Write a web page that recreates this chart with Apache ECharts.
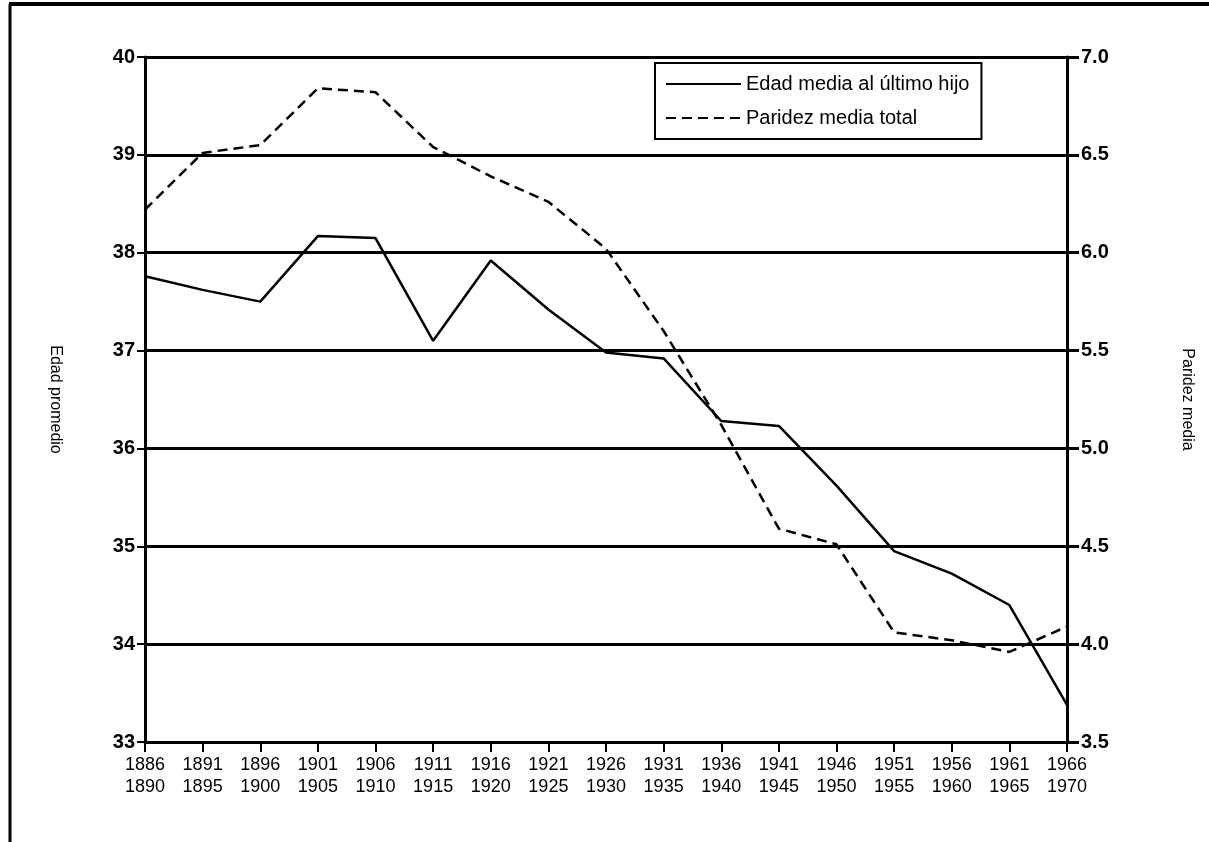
<!DOCTYPE html>
<html>
<head>
<meta charset="utf-8">
<script src="https://cdn.jsdelivr.net/npm/echarts@6/dist/echarts.min.js"></script>
<style>
  html, body { margin: 0; padding: 0; background: #fff; }
  #chartContainer { width: 1209px; height: 842px; }
</style>
</head>
<body>
<div id="chartContainer"></div>
<script>
// periods (x axis)
let periods = ['1886\n1890','1891\n1895','1896\n1900','1901\n1905','1906\n1910','1911\n1915','1916\n1920',
  '1921\n1925','1926\n1930','1931\n1935','1936\n1940','1941\n1945','1946\n1950','1951\n1955','1956\n1960',
  '1961\n1965','1966\n1970']
// left axis: edad media al ultimo hijo
let edadUltimoHijo = [37.76,37.62,37.50,38.17,38.15,37.10,37.92,37.42,36.98,36.92,36.28,36.23,35.62,34.95,34.72,34.40,33.38]
// right axis: paridez media total
let paridezTotal = [6.22,6.51,6.55,6.84,6.82,6.54,6.39,6.26,6.02,5.60,5.12,4.59,4.51,4.06,4.02,3.96,4.09]
let seriesNames = ['Edad media al último hijo','Paridez media total']
let axisNames = ['Edad promedio','Paridez media']

var myChart = echarts.init(document.getElementById('chartContainer'));
var option = {
  backgroundColor: '#fff',
  animation: false,
  textStyle: { fontFamily: 'Liberation Sans, Arial, sans-serif', color: '#000' },
  grid: { left: 145, right: 142, top: 57, bottom: 100 },
  legend: {
    left: 655, top: 63,
    orient: 'vertical',
    itemWidth: 75, itemHeight: 14, itemGap: 14,
    padding: [11, 12, 11, 10],
    borderColor: '#000', borderWidth: 2,
    itemStyle: { opacity: 0 },
    lineStyle: { width: 2 },
    textStyle: { fontSize: 20, color: '#000' },
    data: seriesNames
  },
  xAxis: {
    type: 'category',
    data: periods,
    boundaryGap: false,
    axisLine: { lineStyle: { color: '#000', width: 3 } },
    axisTick: { length: 10, lineStyle: { color: '#000', width: 2 } },
    axisLabel: { fontSize: 18, lineHeight: 22, margin: 12, color: '#000',
      fontFamily: 'Liberation Sans Narrow, Liberation Sans, Arial' }
  },
  yAxis: [
    {
      type: 'value', min: 33, max: 40, interval: 1,
      name: axisNames[0], nameLocation: 'middle', nameGap: 82, nameRotate: -90,
      nameTextStyle: { fontSize: 16, color: '#000' },
      axisLine: { show: true, lineStyle: { color: '#000', width: 3 } },
      axisTick: { show: true, length: 8, lineStyle: { color: '#000', width: 2 } },
      axisLabel: { fontSize: 20, fontWeight: 'bold', color: '#000', margin: 10 },
      splitLine: { show: true, lineStyle: { color: '#000', width: 3 } }
    },
    {
      type: 'value', min: 3.5, max: 7.0, interval: 0.5,
      name: axisNames[1], nameLocation: 'middle', nameGap: 112, nameRotate: -90,
      nameTextStyle: { fontSize: 16, color: '#000' },
      axisLine: { show: true, lineStyle: { color: '#000', width: 3 } },
      axisTick: { show: true, length: 12, lineStyle: { color: '#000', width: 3 } },
      axisLabel: { fontSize: 20, fontWeight: 'bold', color: '#000', margin: 14,
        formatter: function (v) { return v.toFixed(1); } },
      splitLine: { show: false }
    }
  ],
  series: [
    {
      name: seriesNames[0],
      type: 'line',
      yAxisIndex: 0,
      symbol: 'none',
      lineStyle: { color: '#000', width: 2.5, type: 'solid' },
      itemStyle: { color: '#000' },
      data: edadUltimoHijo
    },
    {
      name: seriesNames[1],
      type: 'line',
      yAxisIndex: 1,
      symbol: 'none',
      lineStyle: { color: '#000', width: 2.5, type: [10, 6] },
      itemStyle: { color: '#000' },
      data: paridezTotal
    }
  ],
  graphic: [
    // outer frame of the scanned figure
    { type: 'line', shape: { x1: 9, y1: 4, x2: 1209, y2: 4 }, style: { stroke: '#000', lineWidth: 4 } },
    { type: 'line', shape: { x1: 10, y1: 4, x2: 10, y2: 842 }, style: { stroke: '#000', lineWidth: 3 } }
  ]
};
myChart.setOption(option);
</script>
</body>
</html>
